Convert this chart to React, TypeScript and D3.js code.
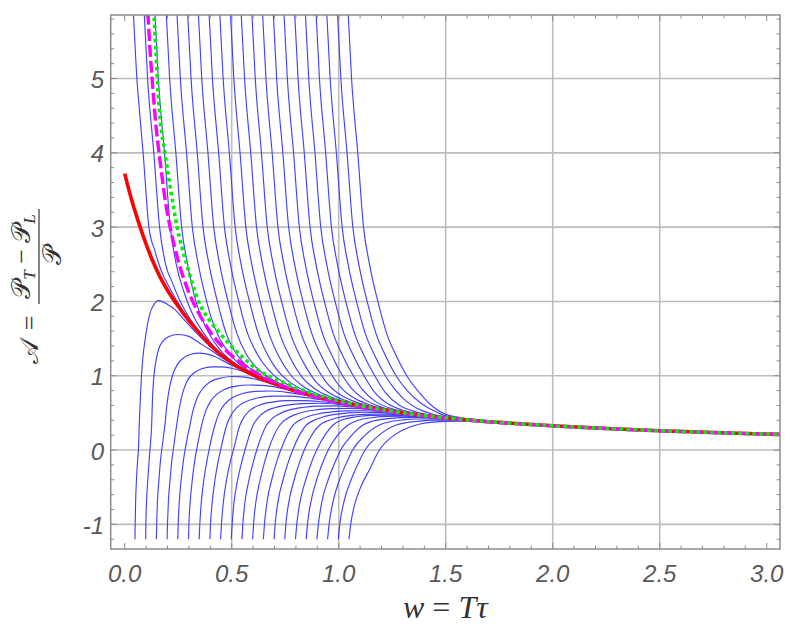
import * as d3 from 'd3';

type Pt = [number, number];

// thick red curve; the blue families run into it
const attractor: Pt[] = [
  [0, 3.72], [0.035, 3.34], [0.071, 3.01], [0.1, 2.77], [0.13, 2.55], [0.165, 2.33],
  [0.2, 2.15], [0.24, 1.975], [0.28, 1.815], [0.32, 1.67], [0.36, 1.54], [0.4, 1.415],
  [0.45, 1.285], [0.5, 1.175], [0.55, 1.085], [0.6, 1.01], [0.7, 0.89], [0.8, 0.79],
  [0.9, 0.715], [1.0, 0.65], [1.1, 0.595], [1.2, 0.545], [1.3, 0.5], [1.4, 0.465],
  [1.5, 0.432], [1.6, 0.405], [1.75, 0.372], [2.0, 0.326], [2.25, 0.29], [2.5, 0.26],
  [2.75, 0.235], [3.063, 0.21],
];

// magenta dashed
const navierStokes: Pt[] = [
  [0.104, 6.1], [0.109, 5.85], [0.118, 5.4], [0.128, 5.0], [0.145, 4.4], [0.167, 3.85],
  [0.19, 3.35], [0.215, 2.96], [0.25, 2.55], [0.3, 2.12], [0.35, 1.82], [0.4, 1.59],
  [0.47, 1.35], [0.55, 1.16], [0.65, 0.98], [0.75, 0.85], [0.87, 0.735], [1.0, 0.64],
  [1.15, 0.555], [1.3, 0.492], [1.5, 0.43], [1.75, 0.37], [2.0, 0.325], [2.25, 0.289],
  [2.5, 0.259], [2.75, 0.234], [3.063, 0.209],
];

// green dotted
const secondOrder: Pt[] = [
  [0.132, 6.1], [0.137, 5.85], [0.145, 5.4], [0.152, 5.0], [0.165, 4.47], [0.188, 4.0],
  [0.215, 3.5], [0.245, 3.0], [0.29, 2.5], [0.345, 2.0], [0.39, 1.77], [0.437, 1.6],
  [0.49, 1.42], [0.547, 1.26], [0.624, 1.075], [0.7, 0.96], [0.765, 0.88], [0.87, 0.77],
  [1.0, 0.665], [1.15, 0.57], [1.3, 0.5], [1.5, 0.434], [1.75, 0.372], [2.0, 0.326],
  [2.25, 0.29], [2.5, 0.26], [2.75, 0.235], [3.063, 0.21],
];

// blue curves coming down from the top edge
const fallingCurves: Pt[][] = [
  [[0.039, 6.0], [0.057, 5.0], [0.071, 4.5], [0.086, 4.0], [0.113, 3.0], [0.14, 2.69], [0.17, 2.42], [0.21, 2.18], [0.26, 1.93], [0.32, 1.69], [0.4, 1.425]],
  [[0.089, 6.0], [0.107, 5.0], [0.136, 4.0], [0.163, 3.0], [0.191, 2.5], [0.22, 2.27], [0.26, 2.0], [0.3, 1.79], [0.35, 1.59], [0.42, 1.375]],
  [[0.139, 6.0], [0.157, 5.0], [0.186, 4.0], [0.213, 3.0], [0.241, 2.5], [0.28, 2.1], [0.32, 1.81], [0.37, 1.57], [0.43, 1.35], [0.5, 1.185]],
  [[0.192, 6.0], [0.21, 5.0], [0.239, 4.0], [0.266, 3.0], [0.294, 2.5], [0.333, 2.0], [0.37, 1.71], [0.41, 1.49], [0.46, 1.3], [0.52, 1.155], [0.6, 1.018]],
  [[0.242, 6.0], [0.26, 5.0], [0.289, 4.0], [0.316, 3.0], [0.344, 2.5], [0.383, 2.0], [0.4, 1.82], [0.44, 1.52], [0.49, 1.295], [0.55, 1.125], [0.62, 1.003], [0.7, 0.896]],
  [[0.292, 6.0], [0.31, 5.0], [0.339, 4.0], [0.366, 3.0], [0.394, 2.5], [0.433, 2.0], [0.474, 1.57], [0.51, 1.35], [0.56, 1.162], [0.62, 1.026], [0.7, 0.905], [0.8, 0.794]],
  [[0.342, 6.0], [0.36, 5.0], [0.389, 4.0], [0.416, 3.0], [0.444, 2.5], [0.483, 2.0], [0.524, 1.57], [0.57, 1.28], [0.62, 1.097], [0.68, 0.966], [0.76, 0.849], [0.86, 0.75]],
  [[0.392, 6.0], [0.41, 5.0], [0.439, 4.0], [0.466, 3.0], [0.494, 2.5], [0.533, 2.0], [0.574, 1.57], [0.6, 1.396], [0.64, 1.195], [0.69, 1.026], [0.76, 0.881], [0.85, 0.769], [0.95, 0.687]],
  [[0.442, 6.0], [0.46, 5.0], [0.489, 4.0], [0.516, 3.0], [0.544, 2.5], [0.583, 2.0], [0.624, 1.57], [0.665, 1.296], [0.71, 1.086], [0.77, 0.917], [0.85, 0.787], [0.95, 0.692]],
  [[0.492, 6.0], [0.51, 5.0], [0.539, 4.0], [0.566, 3.0], [0.594, 2.5], [0.633, 2.0], [0.674, 1.57], [0.721, 1.256], [0.77, 1.03], [0.83, 0.865], [0.91, 0.744], [1.0, 0.662], [1.1, 0.598]],
  [[0.542, 6.0], [0.56, 5.0], [0.589, 4.0], [0.616, 3.0], [0.644, 2.5], [0.683, 2.0], [0.724, 1.57], [0.771, 1.256], [0.83, 0.978], [0.89, 0.821], [0.97, 0.705], [1.06, 0.629], [1.16, 0.568]],
  [[0.592, 6.0], [0.61, 5.0], [0.639, 4.0], [0.666, 3.0], [0.694, 2.5], [0.733, 2.0], [0.774, 1.57], [0.821, 1.256], [0.84, 1.153], [0.89, 0.932], [0.95, 0.78], [1.03, 0.669], [1.12, 0.596], [1.22, 0.538]],
  [[0.642, 6.0], [0.66, 5.0], [0.689, 4.0], [0.716, 3.0], [0.744, 2.5], [0.783, 2.0], [0.824, 1.57], [0.871, 1.256], [0.9, 1.098], [0.95, 0.885], [1.01, 0.74], [1.09, 0.635], [1.18, 0.565], [1.28, 0.512]],
  [[0.692, 6.0], [0.71, 5.0], [0.739, 4.0], [0.766, 3.0], [0.794, 2.5], [0.833, 2.0], [0.874, 1.57], [0.921, 1.256], [0.96, 1.044], [1.01, 0.84], [1.07, 0.703], [1.15, 0.602], [1.25, 0.53], [1.35, 0.485]],
  [[0.742, 6.0], [0.76, 5.0], [0.789, 4.0], [0.816, 3.0], [0.844, 2.5], [0.883, 2.0], [0.924, 1.57], [0.971, 1.256], [1.018, 1.0], [1.06, 0.83], [1.12, 0.682], [1.2, 0.577], [1.3, 0.508], [1.4, 0.469]],
  [[0.792, 6.0], [0.81, 5.0], [0.839, 4.0], [0.866, 3.0], [0.894, 2.5], [0.933, 2.0], [0.974, 1.57], [1.021, 1.256], [1.068, 1.0], [1.11, 0.816], [1.17, 0.658], [1.25, 0.555], [1.35, 0.491], [1.45, 0.453]],
  [[0.842, 6.0], [0.86, 5.0], [0.889, 4.0], [0.916, 3.0], [0.944, 2.5], [0.983, 2.0], [1.024, 1.57], [1.071, 1.256], [1.118, 1.0], [1.17, 0.77], [1.23, 0.622], [1.31, 0.527], [1.41, 0.471], [1.51, 0.434]],
  [[0.892, 6.0], [0.91, 5.0], [0.939, 4.0], [0.966, 3.0], [0.994, 2.5], [1.033, 2.0], [1.074, 1.57], [1.121, 1.256], [1.168, 1.0], [1.22, 0.766], [1.28, 0.609], [1.36, 0.513], [1.46, 0.456], [1.56, 0.42]],
  [[0.942, 6.0], [0.96, 5.0], [0.989, 4.0], [1.016, 3.0], [1.044, 2.5], [1.083, 2.0], [1.124, 1.57], [1.171, 1.256], [1.218, 1.0], [1.27, 0.79], [1.33, 0.625], [1.39, 0.53], [1.45, 0.475], [1.52, 0.44], [1.62, 0.408]],
  [[0.992, 6.0], [1.01, 5.0], [1.039, 4.0], [1.066, 3.0], [1.094, 2.5], [1.133, 2.0], [1.174, 1.57], [1.221, 1.256], [1.268, 1.0], [1.32, 0.8], [1.38, 0.64], [1.44, 0.535], [1.5, 0.46], [1.57, 0.428], [1.67, 0.4]],
  [[1.042, 6.0], [1.06, 5.0], [1.089, 4.0], [1.116, 3.0], [1.144, 2.5], [1.183, 2.0], [1.224, 1.57], [1.271, 1.256], [1.318, 1.0], [1.38, 0.763], [1.442, 0.58], [1.5, 0.48], [1.56, 0.44], [1.65, 0.408], [1.75, 0.382]],
];

// blue curves climbing from the bottom
const risingCurves: Pt[][] = [
  [[0.048, -1.2], [0.049, -1.0], [0.051, -0.7], [0.055, -0.4], [0.06, -0.15], [0.064, 0], [0.068, 0.34], [0.073, 0.7], [0.079, 1.03], [0.087, 1.3], [0.095, 1.48], [0.106, 1.68], [0.118, 1.84], [0.135, 1.95], [0.157, 2.01], [0.2, 1.96], [0.235, 1.89], [0.27, 1.78], [0.31, 1.65], [0.36, 1.503], [0.42, 1.345]],
  [[0.098, -1.2], [0.099, -1.0], [0.102, -0.7], [0.108, -0.4], [0.114, -0.15], [0.118, 0], [0.126, 0.34], [0.13, 0.7], [0.136, 0.98], [0.146, 1.2], [0.16, 1.37], [0.18, 1.47], [0.204, 1.525], [0.25, 1.555], [0.3, 1.53], [0.344, 1.45], [0.4, 1.35], [0.453, 1.245], [0.52, 1.13]],
  [[0.148, -1.2], [0.1495, -1.0], [0.153, -0.7], [0.16, -0.4], [0.167, -0.15], [0.173, 0], [0.188, 0.34], [0.196, 0.58], [0.208, 0.82], [0.225, 1.02], [0.248, 1.16], [0.28, 1.25], [0.31, 1.29], [0.345, 1.305], [0.38, 1.295], [0.42, 1.26], [0.46, 1.2], [0.5, 1.14], [0.56, 1.062]],
  [[0.198, -1.2], [0.2, -1.0], [0.204, -0.7], [0.212, -0.4], [0.22, -0.15], [0.227, 0], [0.243, 0.34], [0.255, 0.56], [0.27, 0.76], [0.29, 0.92], [0.32, 1.03], [0.36, 1.095], [0.41, 1.12], [0.45, 1.12], [0.5, 1.1], [0.55, 1.06], [0.6, 0.998], [0.66, 0.93], [0.72, 0.868]],
  [[0.248, -1.2], [0.25, -1.0], [0.255, -0.7], [0.264, -0.4], [0.274, -0.15], [0.282, 0], [0.305, 0.34], [0.32, 0.54], [0.34, 0.71], [0.365, 0.83], [0.4, 0.92], [0.45, 0.97], [0.5, 0.99], [0.55, 0.985], [0.6, 0.96], [0.66, 0.915], [0.72, 0.86], [0.8, 0.785], [0.88, 0.725]],
  [[0.298, -1.2], [0.3, -1.0], [0.306, -0.7], [0.316, -0.4], [0.327, -0.15], [0.336, 0], [0.36, 0.34], [0.378, 0.52], [0.4, 0.65], [0.43, 0.75], [0.47, 0.82], [0.52, 0.86], [0.58, 0.875], [0.64, 0.87], [0.7, 0.85], [0.77, 0.805], [0.85, 0.745], [0.93, 0.69], [1.02, 0.636]],
  [[0.348, -1.2], [0.351, -1.0], [0.358, -0.7], [0.37, -0.4], [0.384, -0.15], [0.394, 0], [0.422, 0.34], [0.44, 0.49], [0.465, 0.61], [0.5, 0.7], [0.55, 0.76], [0.61, 0.79], [0.68, 0.795], [0.75, 0.78], [0.83, 0.745], [0.91, 0.7], [1.0, 0.643], [1.1, 0.592]],
  [[0.398, -1.2], [0.401, -1.0], [0.409, -0.7], [0.422, -0.4], [0.437, -0.15], [0.448, 0], [0.477, 0.34], [0.497, 0.47], [0.525, 0.575], [0.565, 0.65], [0.62, 0.7], [0.69, 0.725], [0.77, 0.725], [0.85, 0.705], [0.93, 0.67], [1.02, 0.625], [1.12, 0.578], [1.22, 0.535]],
  [[0.448, -1.2], [0.452, -1.0], [0.461, -0.7], [0.476, -0.4], [0.494, -0.15], [0.508, 0], [0.539, 0.34], [0.56, 0.455], [0.59, 0.545], [0.63, 0.605], [0.69, 0.645], [0.76, 0.665], [0.84, 0.665], [0.92, 0.65], [1.0, 0.625], [1.1, 0.585], [1.2, 0.54], [1.3, 0.498]],
  [[0.498, -1.2], [0.502, -1.0], [0.511, -0.7], [0.528, -0.4], [0.548, -0.15], [0.562, 0], [0.601, 0.34], [0.625, 0.44], [0.655, 0.515], [0.7, 0.57], [0.76, 0.605], [0.83, 0.625], [0.91, 0.63], [1.0, 0.615], [1.1, 0.58], [1.2, 0.537], [1.3, 0.496], [1.4, 0.465]],
  [[0.548, -1.2], [0.552, -1.0], [0.562, -0.7], [0.581, -0.4], [0.602, -0.15], [0.617, 0], [0.664, 0.34], [0.69, 0.425], [0.725, 0.49], [0.77, 0.54], [0.83, 0.573], [0.9, 0.59], [0.98, 0.595], [1.07, 0.58], [1.16, 0.552], [1.26, 0.51], [1.36, 0.475], [1.46, 0.446]],
  [[0.598, -1.2], [0.602, -1.0], [0.613, -0.7], [0.633, -0.4], [0.655, -0.15], [0.671, 0], [0.726, 0.34], [0.755, 0.415], [0.79, 0.47], [0.84, 0.515], [0.9, 0.543], [0.97, 0.558], [1.05, 0.56], [1.14, 0.548], [1.23, 0.518], [1.33, 0.482], [1.43, 0.452], [1.53, 0.428]],
  [[0.648, -1.2], [0.653, -1.0], [0.665, -0.7], [0.687, -0.4], [0.711, -0.15], [0.729, 0], [0.788, 0.34], [0.82, 0.405], [0.86, 0.455], [0.91, 0.49], [0.97, 0.513], [1.04, 0.526], [1.12, 0.528], [1.21, 0.515], [1.3, 0.49], [1.4, 0.458], [1.5, 0.43], [1.6, 0.403]],
  [[0.698, -1.2], [0.703, -1.0], [0.716, -0.7], [0.74, -0.4], [0.766, -0.15], [0.785, 0], [0.85, 0.34], [0.885, 0.4], [0.93, 0.448], [0.985, 0.48], [1.05, 0.5], [1.12, 0.508], [1.2, 0.503], [1.29, 0.485], [1.38, 0.462], [1.47, 0.436], [1.56, 0.414], [1.66, 0.392]],
  [[0.748, -1.2], [0.753, -1.0], [0.767, -0.7], [0.792, -0.4], [0.819, -0.15], [0.839, 0], [0.913, 0.34], [0.95, 0.395], [0.995, 0.435], [1.05, 0.463], [1.12, 0.48], [1.2, 0.485], [1.29, 0.475], [1.38, 0.457], [1.47, 0.433], [1.56, 0.411], [1.66, 0.39]],
  [[0.798, -1.2], [0.804, -1.0], [0.819, -0.7], [0.846, -0.4], [0.875, -0.15], [0.897, 0], [0.94, 0.22], [0.975, 0.34], [1.02, 0.41], [1.08, 0.448], [1.15, 0.467], [1.23, 0.47], [1.32, 0.462], [1.41, 0.445], [1.5, 0.424], [1.6, 0.401], [1.7, 0.383]],
  [[0.848, -1.2], [0.854, -1.0], [0.87, -0.7], [0.897, -0.4], [0.928, -0.15], [0.951, 0], [0.995, 0.2], [1.045, 0.34], [1.09, 0.4], [1.15, 0.435], [1.22, 0.452], [1.3, 0.455], [1.39, 0.444], [1.48, 0.428], [1.57, 0.406], [1.67, 0.386], [1.77, 0.369]],
  [[0.898, -1.2], [0.905, -1.0], [0.921, -0.7], [0.951, -0.4], [0.985, -0.15], [1.009, 0], [1.058, 0.19], [1.115, 0.34], [1.16, 0.39], [1.22, 0.42], [1.29, 0.437], [1.37, 0.44], [1.46, 0.429], [1.55, 0.408], [1.64, 0.39], [1.74, 0.373], [1.84, 0.357]],
  [[0.948, -1.2], [0.955, -1.0], [0.973, -0.7], [1.004, -0.4], [1.04, -0.15], [1.065, 0], [1.12, 0.19], [1.193, 0.34], [1.24, 0.38], [1.3, 0.405], [1.37, 0.418], [1.45, 0.42], [1.53, 0.41], [1.62, 0.393], [1.72, 0.374], [1.83, 0.356]],
  [[0.998, -1.2], [1.005, -1.0], [1.024, -0.7], [1.058, -0.4], [1.096, -0.15], [1.123, 0], [1.185, 0.19], [1.271, 0.34], [1.32, 0.37], [1.38, 0.39], [1.45, 0.402], [1.53, 0.403], [1.62, 0.39], [1.72, 0.372], [1.83, 0.354], [1.95, 0.336]],
  [[1.048, -1.2], [1.056, -1.0], [1.076, -0.72], [1.104, -0.49], [1.143, -0.27], [1.19, 0], [1.25, 0.18], [1.333, 0.31], [1.38, 0.35], [1.43, 0.372], [1.5, 0.386], [1.58, 0.388], [1.68, 0.376], [1.8, 0.356], [1.92, 0.338], [2.05, 0.32]],
];

const xTickValues = [0, 0.5, 1, 1.5, 2, 2.5, 3];
const xTickLabels = ['0.0', '0.5', '1.0', '1.5', '2.0', '2.5', '3.0'];
const yTickValues = [-1, 0, 1, 2, 3, 4, 5];
const yTickLabels = ['-1', '0', '1', '2', '3', '4', '5'];
const xGridValues = [0.5, 1, 1.5, 2, 2.5];

export default function App() {
  const width = 796;
  const height = 632;
  const left = 110.7;
  const right = 780;
  const top = 15;
  const bottom = 549;

  const x = d3.scaleLinear([-0.0654, 3.062], [left, right]);
  const y = d3.scaleLinear([-1.332, 5.855], [bottom, top]);

  const line = d3
    .line<Pt>()
    .x((d) => x(d[0]))
    .y((d) => y(d[1]))
    .curve(d3.curveMonotoneX);

  // after its own points, each blue curve runs on along the red one
  const withTail = (head: Pt[]) => {
    const last = head[head.length - 1][0];
    return head.concat(attractor.filter((p) => p[0] > last + 0.03));
  };

  const xMinor = d3.range(0, 3.05, 0.1).filter((v) => Math.abs(v * 2 - Math.round(v * 2)) > 1e-6);
  const yMinor = d3.range(-1.2, 5.85, 0.2).filter((v) => Math.abs(v - Math.round(v)) > 1e-6);

  const frameColor = '#8c8c8c';
  const blue = '#4040ff';
  const labelFont = '"Liberation Sans", Arial, sans-serif';
  const mathFont = '"Liberation Serif", "DejaVu Serif", serif';

  return (
    <svg width={width} height={height} style={{ position: 'absolute', left: 0, top: 0, background: '#fff' }}>
      <defs>
        <clipPath id="plot-area">
          <rect x={left} y={top} width={right - left} height={bottom - top} />
        </clipPath>
      </defs>

      {/* grid */}
      <g stroke="#bdbdbd" strokeWidth={1.6}>
        {xGridValues.map((v) => (
          <line key={'gx' + v} x1={x(v)} x2={x(v)} y1={top} y2={bottom} />
        ))}
        {yTickValues.map((v) => (
          <line key={'gy' + v} x1={left} x2={right} y1={y(v)} y2={y(v)} />
        ))}
      </g>

      <g clipPath="url(#plot-area)" fill="none">
        {fallingCurves.map((c, i) => (
          <path key={'f' + i} d={line(withTail(c)) ?? ''} stroke={blue} strokeWidth={1.15} />
        ))}
        {risingCurves.map((c, i) => (
          <path key={'r' + i} d={line(withTail(c)) ?? ''} stroke={blue} strokeWidth={1.15} />
        ))}
        <path d={line(attractor) ?? ''} stroke="#ff0000" strokeWidth={3.6} />
        <path d={line(navierStokes) ?? ''} stroke="#ff00ff" strokeWidth={3.4} strokeDasharray="12 4" />
        <path d={line(secondOrder) ?? ''} stroke="#00f000" strokeWidth={3.6} strokeDasharray="3.6 3.4" />
      </g>

      {/* frame and inward ticks */}
      <rect x={left} y={top} width={right - left} height={bottom - top} fill="none" stroke={frameColor} strokeWidth={1.5} />
      <g stroke={frameColor} strokeWidth={1}>
        {xTickValues.map((v) => (
          <g key={'tx' + v}>
            <line x1={x(v)} x2={x(v)} y1={bottom} y2={bottom - 6} />
            <line x1={x(v)} x2={x(v)} y1={top} y2={top + 6} />
          </g>
        ))}
        {xMinor.map((v) => (
          <g key={'mx' + v}>
            <line x1={x(v)} x2={x(v)} y1={bottom} y2={bottom - 3.5} />
            <line x1={x(v)} x2={x(v)} y1={top} y2={top + 3.5} />
          </g>
        ))}
        {yTickValues.map((v) => (
          <g key={'ty' + v}>
            <line x1={left} x2={left + 6} y1={y(v)} y2={y(v)} />
            <line x1={right} x2={right - 6} y1={y(v)} y2={y(v)} />
          </g>
        ))}
        {yMinor.map((v) => (
          <g key={'my' + v}>
            <line x1={left} x2={left + 3.5} y1={y(v)} y2={y(v)} />
            <line x1={right} x2={right - 3.5} y1={y(v)} y2={y(v)} />
          </g>
        ))}
      </g>

      {/* tick labels */}
      <g fontFamily={labelFont} fontStyle="italic" fontSize={24} fill="#595959">
        {xTickValues.map((v, i) => (
          <text key={'lx' + v} x={x(v)} y={582} textAnchor="middle">
            {xTickLabels[i]}
          </text>
        ))}
        {yTickValues.map((v, i) => (
          <text key={'ly' + v} x={104} y={y(v) + 9.5} textAnchor="end">
            {yTickLabels[i]}
          </text>
        ))}
      </g>

      {/* axis titles */}
      <text x={(left + right) / 2} y={618} textAnchor="middle" fontFamily={mathFont} fontSize={32} fill="#333">
        <tspan fontStyle="italic">w</tspan>
        <tspan> = </tspan>
        <tspan fontStyle="italic">T</tspan>
        <tspan fontStyle="italic">τ</tspan>
      </text>

      <g transform="translate(39,283) rotate(-90)" fontFamily={mathFont} fill="#333">
        <text x={-68} y={-1} textAnchor="middle" fontSize={26}>𝒜</text>
        <text x={-40} y={-1} textAnchor="middle" fontSize={26}>=</text>
        <line x1={-21} x2={74} y1={0} y2={0} stroke="#333" strokeWidth={1.2} />
        <text x={26.5} y={-9} textAnchor="middle" fontSize={26}>
          <tspan>𝒫</tspan>
          <tspan fontSize={17} fontStyle="italic" dy={5}>T</tspan>
          <tspan dy={-5}> − </tspan>
          <tspan>𝒫</tspan>
          <tspan fontSize={17} fontStyle="italic" dy={5}>L</tspan>
        </text>
        <text x={28} y={22} textAnchor="middle" fontSize={26}>𝒫</text>
      </g>
    </svg>
  );
}
